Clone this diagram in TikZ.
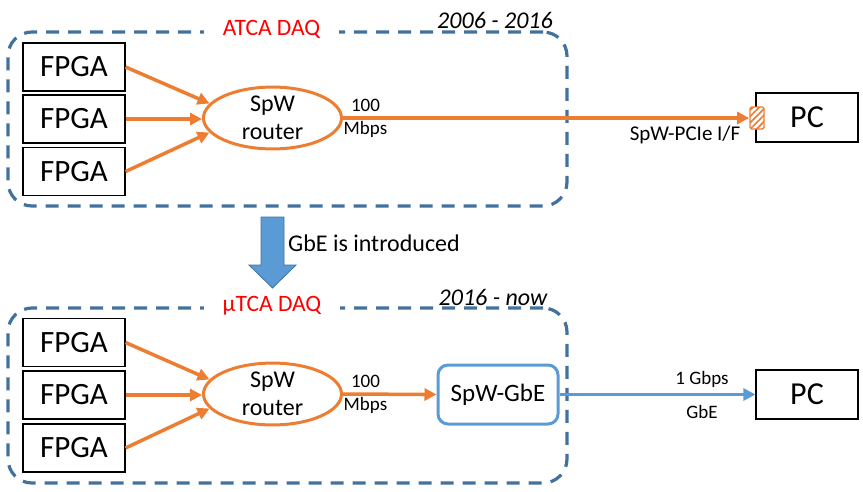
\documentclass[tikz,border=0pt]{standalone}
\usepackage{fontspec}
\setmainfont{Carlito}
\usetikzlibrary{arrows.meta,patterns.meta,shapes.geometric}
\definecolor{dorange}{HTML}{ED7D31}
\definecolor{dblue}{HTML}{5B9BD5}
\definecolor{dframe}{HTML}{41719C}
\begin{document}
\begin{tikzpicture}[x=1pt,y=-1pt,
  panel/.style={draw=dframe, line width=3.2pt, dash pattern=on 13pt off 9pt, rounded corners=24pt,
    minimum width=559pt, minimum height=174pt, inner sep=0pt},
  paneltitle/.style={text=red, fill=white, inner xsep=19pt, inner ysep=1pt, font=\fontsize{23.5}{26}\selectfont},
  period/.style={font=\fontsize{24}{26}\selectfont\itshape},
  fpga/.style={draw=black, line width=1.2pt, minimum width=102pt, minimum height=48pt, inner sep=0pt,
    font=\fontsize{31}{32}\selectfont},
  pcbox/.style={draw=black, line width=1.2pt, minimum width=102pt, minimum height=49pt, inner sep=0pt,
    font=\fontsize{32}{33}\selectfont},
  router/.style={ellipse, draw=dorange, line width=3pt, minimum width=138pt, minimum height=61pt,
    inner sep=0pt, align=center, font=\fontsize{24}{28}\selectfont},
  rate/.style={align=center, inner sep=0pt, font=\fontsize{19}{23}\selectfont},
  small/.style={inner sep=0pt, font=\fontsize{19}{22}\selectfont},
  olink/.style={draw=dorange, line width=3.5pt, -{Triangle[length=12pt,width=12pt]}},
  blink/.style={draw=dblue, line width=3.5pt, -{Triangle[length=12pt,width=12pt]}},
  conv/.style={draw=dblue, line width=3pt, rounded corners=10pt, minimum width=120pt, minimum height=59pt,
    inner sep=0pt, font=\fontsize{25}{27}\selectfont},
  hatchbox/.style={draw=dorange, line width=1.3pt, preaction={fill=white},
    pattern={Lines[angle=45,distance=4.5pt,line width=1.7pt]}, pattern color=dorange,
    minimum width=14pt, minimum height=22pt, inner sep=0pt, rounded corners=1.5pt}
]
\useasboundingbox (0,0) rectangle (863,491);

% ---------- top panel ----------
\node[panel] (ptop) at (287.5,119) {};
\node[paneltitle] (ttop) at (271.5,29) {ATCA DAQ};
\node[period] (ytop) at (495,20) {2006 - 2016};

\node[fpga] (fa1) at (74,67) {FPGA};
\node[fpga] (fa2) at (74,119) {FPGA};
\node[fpga] (fa3) at (74,171.5) {FPGA};
\node[router] (ra) at (272.5,118) {SpW\\router};
\node[rate] (rta) at (365.5,118) {100\\Mbps};

\node[pcbox] (pca) at (807,117.5) {PC};
\node[hatchbox] (hif) at (757,118) {};
\node[small, font=\fontsize{21}{23}\selectfont] (lif) at (685,135) {SpW-PCIe I/F};

\draw[olink] (fa1.east) -- (ra.167);
\draw[olink] (fa2.east) -- (fa2.east -| ra.west);
\draw[olink] (fa3.east) -- (ra.193);
\draw[olink] (ra.east) -- (hif.west);

% ---------- transition arrow ----------
\draw[fill=dblue, draw=dframe, line width=0.8pt]
  (261,217) -- (284,217) -- (284,265) -- (296,265) -- (272.5,288) -- (249,265) -- (261,265) -- cycle;
\node[font=\fontsize{24}{26}\selectfont, inner sep=0pt] (gbe) at (374,243) {GbE is introduced};

% ---------- bottom panel ----------
\node[panel, minimum height=175pt] (pbot) at (287.5,395.5) {};
\node[paneltitle] (tbot) at (272,306) {µTCA DAQ};
\node[period] (ybot) at (493,297) {2016 - now};

\node[fpga] (fb1) at (74,342.5) {FPGA};
\node[fpga] (fb2) at (74,395) {FPGA};
\node[fpga] (fb3) at (74,448) {FPGA};
\node[router] (rb) at (272.5,394) {SpW\\router};
\node[rate] (rtb) at (365.5,394) {100\\Mbps};

\node[conv] (cv) at (498,394.5) {SpW-GbE};
\node[pcbox] (pcb) at (807,394.5) {PC};
\node[small] (l1g) at (702,379) {1 Gbps};
\node[small] (lge) at (702,412) {GbE};

\draw[olink] (fb1.east) -- (rb.167);
\draw[olink] (fb2.east) -- (fb2.east -| rb.west);
\draw[olink] (fb3.east) -- (rb.193);
\draw[olink] (rb.east) -- (cv.west);
\draw[blink] (cv.east) -- (cv.east -| pcb.west);
\end{tikzpicture}
\end{document}
